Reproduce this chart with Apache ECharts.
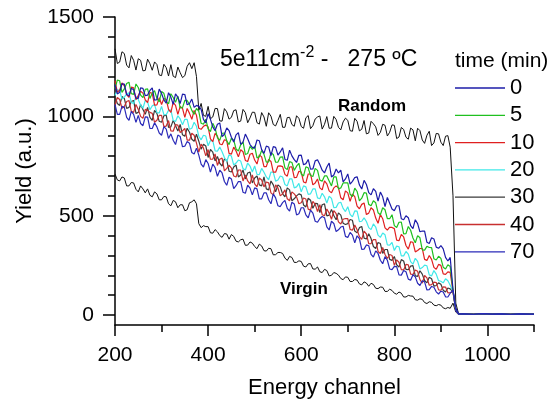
<!DOCTYPE html>
<html>
<head>
<meta charset="utf-8">
<script src="https://cdn.jsdelivr.net/npm/echarts@6/dist/echarts.min.js"></script>
<style>
  html, body { margin: 0; padding: 0; background: #fff; }
  #chart { width: 555px; height: 406px; }
</style>
</head>
<body>
<div id="chart"></div>
<script>
// energy channels (x): every 10 up to the surface edge, then the edge itself
const channels = [
  200, 210, 220, 230, 240, 250, 260, 270, 280, 290,
  300, 310, 320, 330, 340, 350, 360, 370, 380, 390,
  400, 410, 420, 430, 440, 450, 460, 470, 480, 490,
  500, 510, 520, 530, 540, 550, 560, 570, 580, 590,
  600, 610, 620, 630, 640, 650, 660, 670, 680, 690,
  700, 710, 720, 730, 740, 750, 760, 770, 780, 790,
  800, 810, 820, 830, 840, 850, 860, 870, 880, 890,
  900, 910, 920, 926, 932, 938
];
// the channels in between
const halfChannels = [
  205, 215, 225, 235, 245, 255, 265, 275, 285, 295,
  305, 315, 325, 335, 345, 355, 365, 375, 385, 395,
  405, 415, 425, 435, 445, 455, 465, 475, 485, 495,
  505, 515, 525, 535, 545, 555, 565, 575, 585, 595,
  605, 615, 625, 635, 645, 655, 665, 675, 685, 695,
  705, 715, 725, 735, 745, 755, 765, 775, 785, 795,
  805, 815, 825, 835, 845, 855, 865, 875, 885, 895,
  905, 915
];
// past the edge, all spectra sit at the background
const tailChannels = [950, 970, 990, 1010, 1030, 1050, 1070, 1090, 1100];
const tailYield = [6, 4, 7, 5, 6, 4, 6, 5, 5];

const times = ['0', '5', '10', '20', '30', '40', '70'];

const yield0 = [
  1160, 1121, 1162, 1103, 1134, 1090, 1141, 1107, 1143, 1084,
  1115, 1066, 1097, 1113, 1064, 1110, 1065, 1045, 1050, 985,
  1013, 947, 960, 898, 942, 895, 907, 859, 911, 858,
  840, 877, 814, 846, 848, 805, 842, 779, 801, 768,
  805, 762, 734, 776, 758, 715, 765, 705, 715, 670,
  710, 673, 696, 634, 657, 605, 622, 619, 546, 563,
  525, 550, 480, 490, 435, 460, 423, 366, 389, 342,
  350, 290, 290, 130, 35, 6
];
const yield0Half = [
  1113, 1164, 1110, 1141, 1092, 1143, 1104, 1130, 1081, 1137,
  1083, 1119, 1060, 1096, 1112, 1058, 1087, 1055, 1035, 967,
  985, 928, 967, 910, 928, 871, 918, 870, 887, 844,
  881, 833, 850, 802, 844, 821, 783, 830, 782, 804,
  756, 783, 735, 782, 729, 745, 695, 735, 730, 685,
  659, 692, 655, 678, 616, 636, 573, 595, 592, 534,
  550, 485, 500, 450, 480, 419, 422, 360, 383, 336,
  333, 272
];
const yield5 = [
  1140, 1179, 1138, 1172, 1111, 1145, 1094, 1138, 1117, 1091,
  1125, 1072, 1114, 1071, 1043, 1080, 1060, 1010, 1025, 960,
  937, 965, 893, 915, 877, 890, 836, 857, 808, 849,
  850, 797, 809, 771, 808, 770, 796, 732, 768, 749,
  710, 746, 702, 738, 679, 700, 675, 695, 635, 665,
  665, 596, 622, 588, 614, 550, 565, 505, 530, 485,
  450, 467, 409, 446, 388, 400, 328, 346, 339, 277,
  285, 232, 245, 125, 30, 5
];
const yield5Half = [
  1182, 1121, 1165, 1114, 1163, 1107, 1136, 1090, 1129, 1073,
  1116, 1063, 1095, 1102, 1044, 1080, 1030, 1040, 965, 986,
  923, 941, 879, 916, 858, 880, 826, 872, 813, 834,
  791, 828, 770, 817, 769, 795, 741, 772, 728, 764,
  700, 741, 697, 728, 674, 700, 650, 695, 640, 665,
  608, 639, 575, 616, 557, 575, 515, 540, 485, 505,
  441, 468, 410, 427, 364, 389, 327, 340, 283, 296,
  241, 253
];
const yield10 = [
  1180, 1132, 1154, 1096, 1143, 1105, 1117, 1069, 1116, 1058,
  1060, 1085, 1020, 1055, 1050, 995, 1015, 1030, 940, 950,
  947, 873, 900, 857, 878, 810, 826, 832, 778, 809,
  780, 806, 747, 783, 719, 750, 747, 699, 746, 693,
  720, 665, 710, 665, 640, 675, 625, 640, 640, 580,
  615, 609, 548, 557, 506, 540, 488, 506, 439, 442,
  435, 374, 393, 332, 366, 325, 335, 275, 280, 230,
  250, 205, 215, 120, 28, 5
];
const yield10Half = [
  1121, 1168, 1110, 1147, 1084, 1126, 1083, 1120, 1057, 1094,
  1090, 1035, 1070, 1010, 1040, 1040, 985, 1005, 935, 956,
  887, 914, 861, 882, 814, 845, 796, 822, 773, 814,
  760, 796, 747, 773, 719, 751, 708, 745, 692, 724,
  670, 710, 655, 685, 630, 660, 615, 650, 590, 625,
  572, 596, 535, 564, 513, 529, 462, 485, 428, 441,
  377, 406, 350, 369, 318, 335, 280, 300, 240, 255,
  207, 217
];
const yield20 = [
  1105, 1131, 1097, 1118, 1064, 1085, 1041, 1072, 1053, 1019,
  1050, 1008, 1031, 974, 987, 985, 935, 970, 900, 905,
  852, 878, 825, 822, 773, 800, 765, 775, 730, 750,
  750, 707, 719, 681, 718, 680, 695, 650, 685, 645,
  620, 645, 610, 635, 585, 595, 598, 541, 564, 537,
  545, 494, 523, 472, 471, 430, 443, 391, 404, 352,
  325, 344, 298, 307, 256, 270, 239, 248, 197, 206,
  170, 183, 150, 118, 26, 5
];
const yield20Half = [
  1134, 1087, 1113, 1071, 1100, 1056, 1080, 1033, 1059, 1017,
  1009, 1030, 980, 1003, 958, 985, 940, 950, 882, 901,
  878, 826, 846, 793, 807, 755, 780, 737, 765, 720,
  708, 738, 695, 720, 674, 700, 657, 685, 640, 663,
  650, 607, 635, 590, 613, 564, 587, 542, 568, 521,
  507, 524, 470, 489, 440, 459, 402, 413, 353, 366,
  347, 298, 320, 269, 286, 232, 251, 202, 224, 173,
  162, 173
];
const yield30 = [
  1100, 1055, 1090, 1045, 1080, 1020, 1035, 1045, 980, 1015,
  970, 1006, 947, 953, 959, 900, 920, 875, 875, 860,
  793, 820, 798, 750, 778, 720, 755, 705, 685, 720,
  690, 655, 695, 630, 655, 655, 610, 640, 575, 600,
  605, 544, 578, 562, 516, 560, 503, 501, 514, 462,
  460, 477, 414, 446, 383, 385, 335, 360, 330, 280,
  295, 241, 272, 228, 249, 195, 206, 162, 183, 149,
  155, 116, 132, 117, 25, 5
];
const yield30Half = [
  1065, 1100, 1040, 1075, 1015, 1060, 1010, 995, 1030, 975,
  1003, 944, 980, 926, 907, 940, 885, 910, 835, 851,
  834, 776, 764, 786, 724, 745, 695, 730, 715, 665,
  700, 650, 635, 675, 620, 645, 595, 630, 585, 610,
  554, 588, 537, 561, 555, 499, 532, 480, 503, 456,
  481, 423, 440, 387, 409, 345, 365, 310, 330, 275,
  253, 279, 230, 246, 197, 223, 174, 190, 146, 162,
  125, 136
];
const yield40 = [
  1055, 1085, 1050, 1080, 1020, 1035, 990, 1030, 1015, 980,
  1005, 951, 927, 958, 919, 940, 880, 905, 820, 840,
  833, 785, 753, 790, 738, 740, 695, 730, 705, 660,
  660, 690, 645, 665, 605, 640, 610, 585, 620, 595,
  565, 584, 528, 557, 556, 500, 513, 526, 469, 482,
  485, 427, 429, 381, 408, 360, 380, 310, 305, 305,
  250, 266, 227, 253, 204, 220, 161, 187, 153, 164,
  125, 141, 113, 116, 24, 5
];
const yield40Half = [
  1095, 1040, 1075, 1025, 1060, 1000, 1035, 1020, 970, 1005,
  948, 979, 925, 956, 927, 880, 915, 865, 860, 801,
  784, 811, 784, 726, 754, 700, 730, 675, 675, 705,
  645, 680, 670, 615, 655, 600, 630, 575, 610, 560,
  589, 533, 572, 521, 505, 534, 482, 510, 458, 486,
  431, 453, 395, 422, 359, 380, 320, 340, 285, 300,
  278, 229, 255, 206, 227, 178, 199, 150, 166, 127,
  142, 112
];
const yield70 = [
  1060, 1010, 1045, 980, 1010, 1005, 953, 996, 939, 947,
  905, 936, 912, 858, 899, 850, 865, 810, 805, 745,
  763, 760, 698, 715, 653, 685, 651, 672, 613, 639,
  640, 585, 615, 580, 610, 550, 566, 537, 568, 504,
  540, 504, 528, 472, 486, 490, 428, 461, 429, 447,
  390, 402, 399, 331, 353, 305, 323, 276, 294, 232,
  245, 202, 224, 181, 203, 160, 173, 126, 144, 117,
  120, 92, 110, 125, 22, 5
];
const yield70Half = [
  1010, 1050, 995, 1025, 970, 964, 997, 940, 968, 916,
  948, 889, 880, 906, 847, 873, 818, 840, 760, 782,
  719, 742, 729, 672, 694, 636, 672, 618, 654, 605,
  635, 585, 615, 560, 590, 546, 577, 523, 559, 510,
  540, 489, 513, 467, 496, 444, 472, 420, 443, 396,
  416, 363, 385, 332, 349, 292, 310, 258, 276, 229,
  244, 201, 218, 175, 192, 149, 167, 128, 140, 106,
  116, 91
];
const randomYield = [
  1340, 1273, 1316, 1244, 1282, 1290, 1229, 1288, 1232, 1261,
  1205, 1245, 1260, 1195, 1220, 1205, 1270, 1270, 1030, 1005,
  1050, 997, 1039, 976, 1023, 995, 1033, 976, 1019, 992,
  1020, 961, 997, 1018, 959, 980, 945, 994, 959, 1003,
  949, 993, 938, 987, 1002, 960, 940, 1000, 945, 972,
  980, 925, 975, 935, 912, 975, 947, 919, 955, 920,
  955, 896, 934, 885, 932, 940, 881, 905, 853, 914,
  870, 900, 845, 600, 60, 6
];
const randomHalf = [
  1266, 1325, 1258, 1306, 1233, 1282, 1231, 1265, 1274, 1208,
  1262, 1203, 1202, 1248, 1195, 1252, 1240, 1200, 1065, 1000,
  988, 1040, 977, 1039, 986, 1029, 972, 1035, 968, 1021,
  968, 1019, 950, 1001, 952, 1010, 945, 995, 950, 990,
  940, 1004, 953, 997, 936, 999, 941, 984, 932, 991,
  928, 990, 927, 979, 916, 963, 904, 960, 901, 957,
  888, 944, 895, 941, 877, 928, 864, 925, 866, 912,
  853, 903
];
const virginYield = [
  710, 675, 690, 650, 665, 620, 635, 635, 595, 610,
  580, 595, 550, 570, 555, 525, 565, 580, 460, 450,
  445, 412, 419, 391, 408, 405, 372, 379, 351, 368,
  345, 357, 324, 336, 303, 315, 310, 275, 290, 265,
  270, 242, 259, 231, 218, 230, 197, 214, 201, 178,
  190, 169, 176, 152, 161, 160, 135, 141, 119, 130,
  110, 116, 91, 99, 95, 75, 79, 58, 64, 47,
  50, 32, 34, 60, 15, 4
];
const virginHalf = [
  680, 695, 650, 667, 633, 650, 615, 603, 620, 580,
  597, 560, 577, 540, 555, 530, 570, 560, 440, 445,
  414, 430, 400, 410, 382, 396, 368, 382, 352, 362,
  334, 348, 322, 334, 304, 315, 287, 295, 265, 273,
  246, 258, 232, 242, 214, 224, 200, 210, 184, 192,
  169, 179, 157, 167, 145, 154, 133, 140, 119, 124,
  105, 110, 91, 96, 77, 82, 63, 67, 50, 53,
  36, 38
];

const xMajor = [200, 400, 600, 800, 1000];
const xMinor = [300, 500, 700, 900, 1100];
const yMajor = [0, 500, 1000, 1500];
const yMinor = [100, 200, 300, 400, 600, 700, 800, 900, 1100, 1200, 1300, 1400];

const timeYields = [yield0, yield5, yield10, yield20, yield30, yield40, yield70];
const timeHalves = [yield0Half, yield5Half, yield10Half, yield20Half, yield30Half, yield40Half, yield70Half];
const timeColors = ['#1c1ca8', '#20c020', '#e02020', '#40e8e8', '#3a3a3a', '#c83030', '#2a2ab8'];
// drawing order, back to front
const drawOrder = [4, 5, 3, 2, 1, 0, 6];

const FONT = '"Liberation Sans", Arial, sans-serif';

function toPoints(values, halves) {
  const pts = channels.map((c, i) => [c, values[i]])
    .concat(halfChannels.map((c, i) => [c, halves[i]]));
  pts.sort((a, b) => a[0] - b[0]);
  return pts.concat(tailChannels.map((c, i) => [c, tailYield[i]]));
}

function lineSeries(name, values, halves, color, width) {
  return {
    name: name,
    type: 'line',
    data: toPoints(values, halves),
    symbol: 'none',
    showSymbol: false,
    silent: true,
    lineStyle: { color: color, width: width },
    itemStyle: { color: color }
  };
}

const series = [
  lineSeries('Random', randomYield, randomHalf, '#111', 1),
  lineSeries('Virgin', virginYield, virginHalf, '#111', 1)
];
drawOrder.forEach(i => series.push(lineSeries(times[i], timeYields[i], timeHalves[i], timeColors[i], 1.2)));
// empty series on the second grid, which only carries the minor ticks
series.push({ type: 'line', xAxisIndex: 1, yAxisIndex: 1, data: [], silent: true });

const axisBlack = { color: '#000', width: 1.5 };
const plain = v => String(v);
const gridBox = { left: 115, right: 21, top: 17, bottom: 81 };

const chart = echarts.init(document.getElementById('chart'), null, { renderer: 'canvas' });
chart.setOption({
  animation: false,
  backgroundColor: '#fff',
  textStyle: { fontFamily: FONT },
  grid: [Object.assign({}, gridBox), Object.assign({}, gridBox)],
  title: [
    {
      text: '5e11cm{sup|-2} -   275 ºC',
      left: 220, top: 45, padding: 0,
      textStyle: {
        fontFamily: FONT, fontSize: 23, fontWeight: 'normal', color: '#000',
        rich: { sup: { fontFamily: FONT, fontSize: 16, color: '#000', padding: [0, 0, 14, 0] } }
      }
    },
    {
      text: 'time (min)', left: 455, top: 51, padding: 0,
      textStyle: { fontFamily: FONT, fontSize: 21, fontWeight: 'normal', color: '#000' }
    },
    {
      text: 'Random', left: 338, top: 98, padding: 0,
      textStyle: { fontFamily: FONT, fontSize: 17, fontWeight: 'bold', color: '#000' }
    },
    {
      text: 'Virgin', left: 280, top: 281, padding: 0,
      textStyle: { fontFamily: FONT, fontSize: 17, fontWeight: 'bold', color: '#000' }
    }
  ],
  legend: {
    data: times,
    orient: 'vertical',
    left: 455, top: 77,
    padding: 0,
    icon: 'rect',
    itemWidth: 50, itemHeight: 1.3, itemGap: 5.3,
    selectedMode: false,
    textStyle: { fontFamily: FONT, fontSize: 22, lineHeight: 22, color: '#000' }
  },
  xAxis: [
    {
      type: 'value', gridIndex: 0, min: 200, max: 1100, interval: 200,
      name: 'Energy channel', nameLocation: 'middle', nameGap: 52,
      nameTextStyle: { fontFamily: FONT, fontSize: 22, color: '#000' },
      axisLine: { onZero: false, lineStyle: axisBlack },
      axisTick: { customValues: xMajor, length: 11, lineStyle: axisBlack },
      axisLabel: { customValues: xMajor, formatter: plain, margin: 20, fontFamily: FONT, fontSize: 21, color: '#000' },
      splitLine: { show: false }
    },
    {
      type: 'value', gridIndex: 1, min: 200, max: 1100, interval: 100, position: 'bottom',
      axisLine: { show: false, onZero: false },
      axisTick: { show: true, customValues: xMinor, length: 7, lineStyle: axisBlack },
      axisLabel: { show: false },
      splitLine: { show: false }
    }
  ],
  yAxis: [
    {
      type: 'value', gridIndex: 0, min: -50, max: 1500,
      name: 'Yield (a.u.)', nameLocation: 'middle', nameGap: 78, nameRotate: 90,
      nameTextStyle: { fontFamily: FONT, fontSize: 22, color: '#000' },
      axisLine: { show: true, onZero: false, lineStyle: axisBlack },
      axisTick: { show: true, customValues: yMajor, length: 12, lineStyle: axisBlack },
      axisLabel: { customValues: yMajor, formatter: plain, margin: 21, fontFamily: FONT, fontSize: 21, color: '#000' },
      splitLine: { show: false }
    },
    {
      type: 'value', gridIndex: 1, min: -50, max: 1500, position: 'left',
      axisLine: { show: false, onZero: false },
      axisTick: { show: true, customValues: yMinor, length: 7, lineStyle: axisBlack },
      axisLabel: { show: false },
      splitLine: { show: false }
    }
  ],
  series: series
});
</script>
</body>
</html>
